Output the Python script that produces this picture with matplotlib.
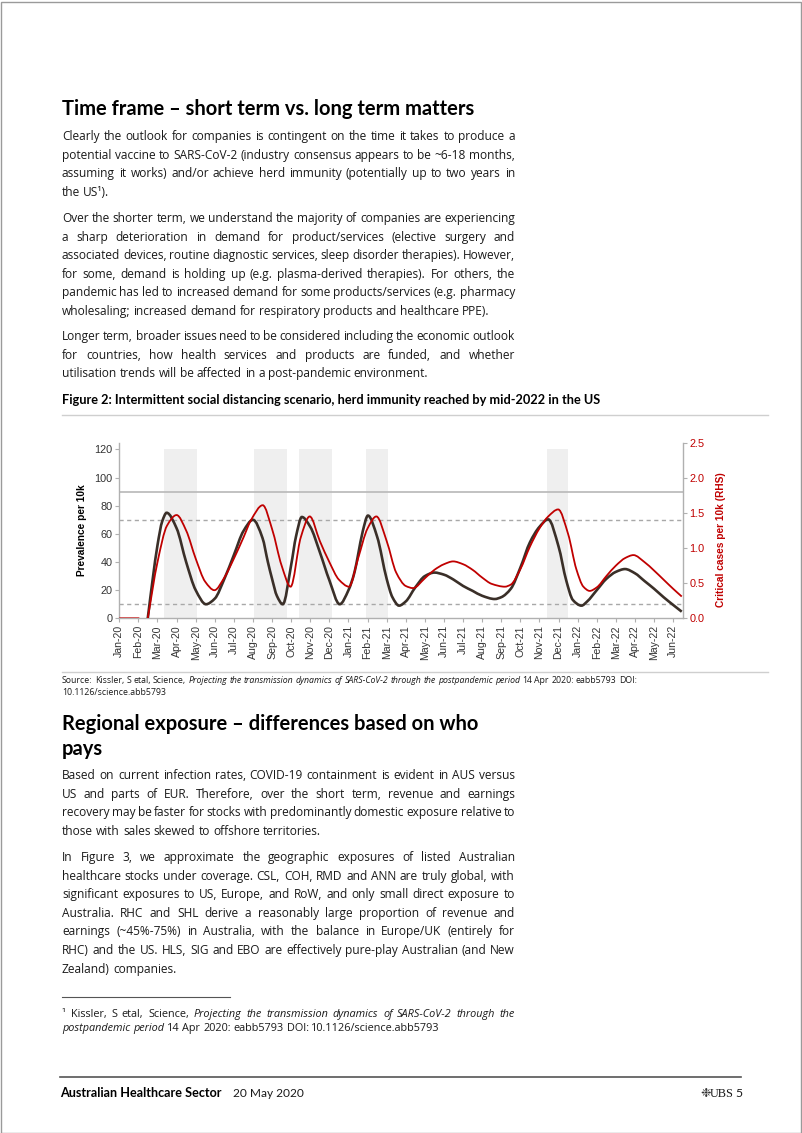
import numpy as np
import matplotlib
matplotlib.use('Agg')
import matplotlib.pyplot as plt
from matplotlib.path import Path
from matplotlib.patches import PathPatch, Rectangle
from matplotlib.lines import Line2D
from matplotlib.transforms import IdentityTransform

W, H = 802, 1133
HEAD = 'Lato'
BODY = 'Open Sans'
CHART = 'Liberation Sans'
TXT = '#1a1a1a'
RED = '#c00000'
DARK = '#3a2f28'

# ---- chart data (month index: 0 = Jan-20) ----
month_labels = ['Jan-20', 'Feb-20', 'Mar-20', 'Apr-20', 'May-20', 'Jun-20', 'Jul-20', 'Aug-20',
                'Sep-20', 'Oct-20', 'Nov-20', 'Dec-20', 'Jan-21', 'Feb-21', 'Mar-21', 'Apr-21',
                'May-21', 'Jun-21', 'Jul-21', 'Aug-21', 'Sep-21', 'Oct-21', 'Nov-21', 'Dec-21',
                'Jan-22', 'Feb-22', 'Mar-22', 'Apr-22', 'May-22', 'Jun-22']

# prevalence per 10k (LHS)
prev_month = [1.49, 1.75, 2.0, 2.25, 2.48, 3.0, 3.5, 4.0, 4.54, 5.0, 5.5, 6.0,
              6.5, 7.0, 7.5, 7.78, 8.0, 8.25, 8.56, 9.0, 9.25, 9.56, 10.0, 10.5, 11.0, 11.54,
              12.0, 12.32, 12.5, 12.75, 13.02, 13.5, 14.0, 14.3, 14.65, 15.0, 15.5, 16.0, 16.5,
              17.0, 17.5, 18.0, 18.5, 19.0, 19.66, 20.0, 20.5, 21.0, 21.5, 22.0, 22.46, 23.0,
              23.4, 23.75, 24.2, 24.5, 25.0, 25.5, 26.0, 26.48, 27.0, 27.5, 28.0, 28.5, 29.0, 29.45]
prevalence = [0, 28, 52, 69, 75, 64, 40, 20, 10, 14, 28, 45,
              62, 70, 57, 40, 28, 16, 10, 38, 58, 72, 65, 47, 27, 10,
              20, 33, 45, 62, 73, 58, 28, 15, 9, 12, 22, 30, 32.5,
              31, 27.5, 23, 19.5, 16, 13.7, 15, 21, 36, 54, 65, 70.3, 51,
              27, 13, 9, 12, 20, 28, 33, 35, 32, 26.5, 21, 15, 9.5, 4.7]

# critical cases per 10k (RHS)
crit_month = [0, 1.05, np.nan, 1.49, 2.0, 2.5, 3.0, 3.5, 4.0, 4.5, 4.98, 5.5, 6.0, 6.5, 6.9,
              7.51, 8.0, 8.5, 8.97, 9.5, 9.97, 10.5, 11.0, 11.5, 12.03, 12.5, 13.0, 13.46,
              14.0, 14.5, 15.0, 15.38, 16.0, 16.5, 17.0, 17.48, 18.0, 18.5, 19.0, 19.5, 20.19,
              20.5, 21.0, 21.5, 22.0, 22.46, 22.98, 23.5, 23.93, 24.3, 24.63, 25.0, 25.5, 26.0,
              26.5, 26.92, 27.5, 28.0, 28.5, 29.0, 29.45]
critical = [0, 0, np.nan, 0, 0.8, 1.32, 1.47, 1.25, 0.85, 0.52, 0.4, 0.58, 0.85, 1.15, 1.4,
            1.61, 1.27, 0.75, 0.45, 1.15, 1.45, 1.1, 0.8, 0.55, 0.45, 0.85, 1.28, 1.45,
            1.1, 0.65, 0.46, 0.43, 0.57, 0.69, 0.77, 0.81, 0.77, 0.69, 0.58, 0.49, 0.45,
            0.48, 0.7, 1.02, 1.28, 1.45, 1.55, 1.2, 0.7, 0.45, 0.39, 0.44, 0.6, 0.75,
            0.86, 0.9, 0.8, 0.68, 0.55, 0.42, 0.31]

# social distancing periods (shaded)
band_start = [2.36, 7.04, 9.4, 12.94, 22.37]
band_end = [4.06, 8.79, 11.15, 14.07, 23.47]
band_top = 120
capacity_line = 90
threshold_lines = [70, 10]


def smooth_path(xs, ys):
    # cubic Bezier through the points, monotone tangents (like a smoothed line)
    xs = np.asarray(xs, float)
    ys = np.asarray(ys, float)
    h = np.diff(xs)
    d = np.diff(ys) / h
    n = len(xs)
    m = np.zeros(n)
    m[0], m[-1] = d[0], d[-1]
    for i in range(1, n - 1):
        if d[i - 1] * d[i] > 0:
            w1 = 2 * h[i] + h[i - 1]
            w2 = h[i] + 2 * h[i - 1]
            m[i] = (w1 + w2) / (w1 / d[i - 1] + w2 / d[i])
    verts = [(xs[0], ys[0])]
    codes = [Path.MOVETO]
    for i in range(n - 1):
        verts += [(xs[i] + h[i] / 3, ys[i] + m[i] * h[i] / 3),
                  (xs[i + 1] - h[i] / 3, ys[i + 1] - m[i + 1] * h[i] / 3),
                  (xs[i + 1], ys[i + 1])]
        codes += [Path.CURVE4] * 3
    return Path(verts, codes)


def draw_series(ax, xs, ys, **kw):
    xs = np.asarray(xs, float)
    ys = np.asarray(ys, float)
    breaks = np.where(np.isnan(xs))[0]
    start = 0
    for b in list(breaks) + [len(xs)]:
        seg_x, seg_y = xs[start:b], ys[start:b]
        if len(seg_x) > 1:
            ax.add_patch(PathPatch(smooth_path(seg_x, seg_y), fill=False, **kw))
        start = b + 1


fig = plt.figure(figsize=(W / 100, H / 100), dpi=100)
renderer = fig.canvas.get_renderer()


def put(x, y, s, **kw):
    return fig.text(x, H - y, s, transform=IdentityTransform(), **kw)


def hline(x0, x1, y, **kw):
    fig.add_artist(Line2D([x0, x1], [H - y, H - y], transform=IdentityTransform(), **kw))


_space = {}


def space_w(size):
    if size not in _space:
        a = put(0, 0, 'n n', fontsize=size, family=BODY)
        b = put(0, 0, 'nn', fontsize=size, family=BODY)
        _space[size] = a.get_window_extent(renderer).width - b.get_window_extent(renderer).width
        a.remove()
        b.remove()
    return _space[size]


def text_line(y, parts, justify=False, size=8.6, x0=62, x1=515, color=TXT):
    # one line of body text, word by word so it can be justified
    words = []
    for txt, st in parts:
        for w in txt.split():
            words.append((w, st))
    objs = [put(0, y, w, fontsize=size, fontstyle=st, family=BODY,
                va='baseline', color=color) for w, st in words]
    widths = [o.get_window_extent(renderer).width for o in objs]
    if justify and len(objs) > 1:
        gap = (x1 - x0 - sum(widths)) / (len(objs) - 1)
    else:
        gap = space_w(size)
    x = x0
    for o, w in zip(objs, widths):
        o.set_x(x)
        x += w + gap


def paragraph(y0, lines, step=18.6, size=8.6):
    for i, ln in enumerate(lines):
        text_line(y0 + i * step, [(ln, 'normal')], justify=(i < len(lines) - 1), size=size)


# ---- page text ----
put(62, 115, 'Time frame \u2013 short term vs. long term matters', fontsize=14.5,
    family=HEAD, weight='bold', color='black', va='baseline')

paragraph(140, [
    'Clearly the outlook for companies is contingent on the time it takes to produce a',
    'potential vaccine to SARS-CoV-2 (industry consensus appears to be ~6-18 months,',
    'assuming it works) and/or achieve herd immunity (potentially up to two years in',
    'the US\u00b9).'])
paragraph(222, [
    'Over the shorter term, we understand the majority of companies are experiencing',
    'a sharp deterioration in demand for product/services (elective surgery and',
    'associated devices, routine diagnostic services, sleep disorder therapies). However,',
    'for some, demand is holding up (e.g. plasma-derived therapies). For others, the',
    'pandemic has led to increased demand for some products/services (e.g. pharmacy',
    'wholesaling; increased demand for respiratory products and healthcare PPE).'])
paragraph(340, [
    'Longer term, broader issues need to be considered including the economic outlook',
    'for countries, how health services and products are funded, and whether',
    'utilisation trends will be affected in a post-pandemic environment.'])

put(62, 404, 'Figure 2: Intermittent social distancing scenario, herd immunity reached by mid-2022 in the US',
    fontsize=9.2, family=HEAD, weight='bold', color='black', va='baseline')
hline(62, 768, 415, color='#cfcfcf', lw=1.0)

# ---- chart ----
ax = fig.add_axes([119.3 / W, 1 - 618.3 / H, (682.7 - 119.3) / W, (618.3 - 442.7) / H])
ax.set_xlim(0, 29.5)
ax.set_ylim(0, 124.8)
ax2 = ax.twinx()
ax2.set_ylim(0, 2.5)

for s, e in zip(band_start, band_end):
    ax.fill_between([s, e], 0, band_top, color='#efefef', lw=0, zorder=0)
ax.axhline(capacity_line, color='#bdbdbd', lw=1.3, zorder=1)
for v in threshold_lines:
    ax.axhline(v, color='#a8a8a8', lw=1.0, ls=(0, (3, 2.5)), zorder=1)

draw_series(ax, prev_month, prevalence, edgecolor=DARK, lw=1.9, zorder=3, capstyle='butt')
draw_series(ax2, crit_month, critical, edgecolor=RED, lw=1.3, zorder=3, capstyle='butt')

ax.set_xticks(range(len(month_labels)))
ax.set_xticklabels(month_labels, rotation=90, fontsize=7.6, family=CHART, color='#333333')
ax.set_yticks(range(0, 121, 20))
ax.set_yticklabels([str(v) for v in range(0, 121, 20)], fontsize=7.8, family=CHART, color='#333333')
ax2.set_yticks(np.arange(0, 2.51, 0.5))
ax2.set_yticklabels(['%.1f' % v for v in np.arange(0, 2.51, 0.5)], fontsize=7.8,
                    family=CHART, color=RED)

for a in (ax, ax2):
    a.patch.set_visible(False)
    a.spines['top'].set_visible(False)
    for sp in ('left', 'right', 'bottom'):
        a.spines[sp].set_color('#b0b0b0')
        a.spines[sp].set_linewidth(1.0)
    a.tick_params(length=3, width=0.8, color='#b0b0b0', pad=2)
ax.spines['right'].set_visible(False)
ax2.spines['left'].set_visible(False)
ax2.spines['bottom'].set_visible(False)

ax.set_ylabel('Prevalence per 10k', fontsize=7.3, family=CHART, weight='bold', color='black')
ax.yaxis.set_label_coords(-0.057, 0.50)
ax2.set_ylabel('Critical cases per 10k (RHS)', fontsize=7.3, family=CHART, weight='bold',
               color=RED, rotation=90)
ax2.yaxis.set_label_coords(1.059, 0.45)

# ---- source ----
hline(62, 768, 672, color='#cfcfcf', lw=1.0)
src_size = 6.3
text_line(683, [('Source:  Kissler, S etal, Science,', 'normal'),
                ('Projecting the transmission dynamics of SARS-CoV-2 through the postpandemic period', 'italic'),
                ('14 Apr 2020: eabb5793 DOI:', 'normal')], size=src_size)
text_line(695, [('10.1126/science.abb5793', 'normal')], size=src_size)

# ---- second section ----
put(62, 730, 'Regional exposure \u2013 differences based on who', fontsize=14.5,
    family=HEAD, weight='bold', color='black', va='baseline')
put(62, 755, 'pays', fontsize=14.5, family=HEAD, weight='bold', color='black', va='baseline')

paragraph(779, [
    'Based on current infection rates, COVID-19 containment is evident in AUS versus',
    'US and parts of EUR. Therefore, over the short term, revenue and earnings',
    'recovery may be faster for stocks with predominantly domestic exposure relative to',
    'those with sales skewed to offshore territories.'])
paragraph(861, [
    'In Figure 3, we approximate the geographic exposures of listed Australian',
    'healthcare stocks under coverage. CSL, COH, RMD and ANN are truly global, with',
    'significant exposures to US, Europe, and RoW, and only small direct exposure to',
    'Australia. RHC and SHL derive a reasonably large proportion of revenue and',
    'earnings (~45%-75%) in Australia, with the balance in Europe/UK (entirely for',
    'RHC) and the US. HLS, SIG and EBO are effectively pure-play Australian (and New',
    'Zealand) companies.'])

# ---- footnote ----
hline(62, 230, 997, color='#555555', lw=0.8)
fn_size = 7.8
text_line(1017, [('\u00b9 Kissler, S etal, Science,', 'normal'),
                 ('Projecting the transmission dynamics of SARS-CoV-2 through the', 'italic')],
          justify=True, size=fn_size)
text_line(1031, [('postpandemic period', 'italic'),
                 ('14 Apr 2020: eabb5793 DOI: 10.1126/science.abb5793', 'normal')], size=fn_size)

# ---- footer ----
hline(60, 741, 1077, color='#555555', lw=1.2)
put(60, 1097, 'Australian Healthcare Sector', fontsize=9.1, family=HEAD, weight='bold',
    color='black', va='baseline')
put(233, 1097, '20 May 2020', fontsize=8.6, family=HEAD, color=TXT, va='baseline')
put(743, 1097, '5', fontsize=8.8, family=HEAD, color=TXT, va='baseline', ha='right')
put(734, 1097, 'UBS', fontsize=8.8, family='Liberation Serif', color=TXT,
    va='baseline', ha='right')
put(711, 1097, '\u2749', fontsize=9, family='DejaVu Sans', color='#333333', va='baseline', ha='right')

fig.add_artist(Rectangle((0.5, 0.5), W - 2, H - 2, transform=IdentityTransform(),
                         fill=False, edgecolor='#9a9a9a', lw=1.0))

fig.savefig('out.png', dpi=100)
